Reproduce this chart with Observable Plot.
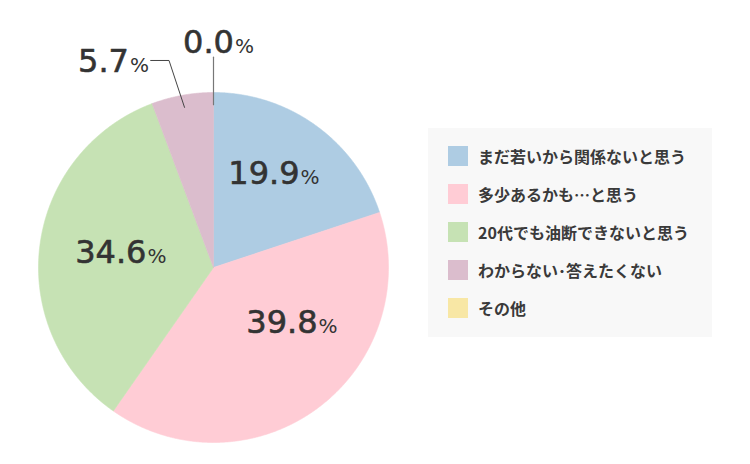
<!DOCTYPE html>
<html>
<head>
<meta charset="utf-8">
<script src="https://cdn.jsdelivr.net/npm/d3@7"></script>
<script src="https://cdn.jsdelivr.net/npm/@observablehq/plot@0.6"></script>
<style>
  html, body { margin: 0; padding: 0; background: #fff; }
  #wrap { position: relative; width: 750px; height: 464px; }
  #legend { position: absolute; left: 428px; top: 128px; width: 284px; height: 209px; background: #f8f8f8;
    font-family: "Noto Sans CJK JP", sans-serif; font-size: 16px; font-weight: bold; color: #3a3a3a; }
  .row { position: absolute; left: 20px; height: 20px; display: flex; align-items: center; white-space: nowrap; }
  .sw { width: 20px; height: 20px; margin-right: 10px; flex: none; }
</style>
</head>
<body>
<div id="wrap"></div>
<script>
const categories = ["まだ若いから関係ないと思う", "多少あるかも…と思う", "20代でも油断できないと思う", "わからない･答えたくない", "その他"];
const values = [19.9, 39.8, 34.6, 5.7, 0.0];
const colors = ["#aecce3", "#ffccd5", "#c6e2b4", "#dbbdcd", "#f8e7a5"];
const valueLabels = ["19.9", "39.8", "34.6", "5.7", "0.0"];

// layout: label anchor positions (unit circle coordinates), leaders for outside labels
const labelAnchors = [[0.486, 0.538], [0.589, -0.313], [-0.389, 0.087], [-0.489, 1.173], [0.111, 1.287]];
const outside = [false, false, false, true, true];

const data = categories.map((c, i) => ({cat: c, value: values[i], label: valueLabels[i], lx: labelAnchors[i][0], ly: labelAnchors[i][1], outside: outside[i]}));
const arcs = d3.pie().sort(null).value(d => d.value).startAngle(0).endAngle(2 * Math.PI)(data);

// slice polygons
const poly = [];
for (const a of arcs) {
  if (a.endAngle - a.startAngle <= 0) continue;
  poly.push({cat: a.data.cat, x: 0, y: 0});
  const n = Math.max(2, Math.ceil((a.endAngle - a.startAngle) / (Math.PI / 720)));
  for (let k = 0; k <= n; k++) {
    const t = a.startAngle + (a.endAngle - a.startAngle) * k / n;
    poly.push({cat: a.data.cat, x: Math.sin(t), y: Math.cos(t)});
  }
  poly.push({cat: a.data.cat, x: 0, y: 0});
}

// leader lines for outside labels
const leaders = [];
arcs.forEach((a, i) => {
  if (!a.data.outside) return;
  const m = (a.startAngle + a.endAngle) / 2;
  const p0 = {x: 0.93 * Math.sin(m), y: 0.93 * Math.cos(m)};
  const ly = a.data.ly + 0.01;
  if (a.value === 0) {
    leaders.push({id: i, x: p0.x, y: p0.y}, {id: i, x: p0.x, y: ly - 0.095});
  } else {
    const r = ly / Math.cos(m);
    const elbow = {x: r * Math.sin(m) - 0.04, y: ly};
    leaders.push({id: i, x: p0.x, y: p0.y}, {id: i, x: elbow.x, y: elbow.y}, {id: i, x: a.data.lx + 0.13, y: ly});
  }
});

const fontNum = 32, fontPct = 20;
const numFont = "'DejaVu Sans', sans-serif";
const chart = Plot.plot({
  width: 750, height: 464,
  marginTop: 0, marginRight: 0, marginBottom: 0, marginLeft: 0,
  x: {domain: [-1, 1], range: [38, 388], axis: null},
  y: {domain: [-1, 1], range: [442, 92], axis: null},
  color: {domain: categories, range: colors},
  style: {background: "transparent"},
  marks: [
    Plot.line(poly, {x: "x", y: "y", z: "cat", fill: "cat", stroke: "cat", strokeWidth: 0.6, curve: "linear"}),
    Plot.line(leaders.filter(d => d.id === 3), {x: "x", y: "y", stroke: "#444", strokeWidth: 1}),
    Plot.line(leaders.filter(d => d.id === 4), {x: "x", y: "y", stroke: "#777", strokeWidth: 1.2}),
    Plot.text(data, {x: "lx", y: "ly", text: "label", textAnchor: "end", dx: 1, fontSize: fontNum, fill: "#333", stroke: "#333", strokeWidth: 0.6, fontFamily: numFont}),
    Plot.text(data, {x: "lx", y: "ly", text: () => "%", textAnchor: "start", dx: 2, dy: 0.32 * (fontNum - fontPct), fontSize: fontPct, fill: "#333", fontFamily: numFont})
  ]
});

const wrap = document.getElementById("wrap");
wrap.appendChild(chart);
const legend = document.createElement("div");
legend.id = "legend";
categories.forEach((c, i) => {
  const row = document.createElement("div");
  row.className = "row";
  row.style.top = (18 + 38 * i) + "px";
  const sw = document.createElement("span");
  sw.className = "sw";
  sw.style.background = colors[i];
  const t = document.createElement("span");
  t.textContent = c;
  row.appendChild(sw); row.appendChild(t);
  legend.appendChild(row);
});
wrap.appendChild(legend);
</script>
</body>
</html>
